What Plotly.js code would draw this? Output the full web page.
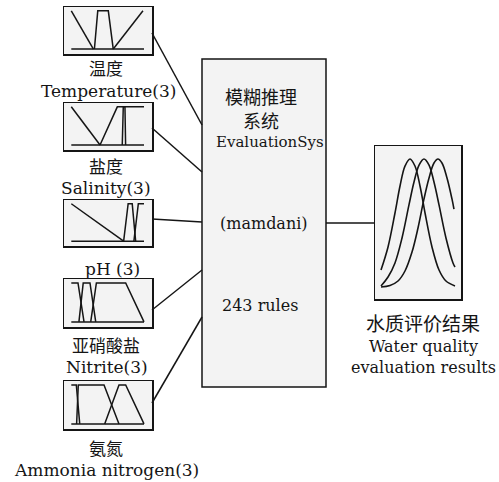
<!DOCTYPE html>
<html><head><meta charset="utf-8">
<script src="https://cdn.plot.ly/plotly-3.0.1.min.js"></script>
<style>html,body{margin:0;padding:0;background:#fff}</style>
</head><body><div id="chart" style="width:499px;height:482px"></div>
<script>
// ---------- data (membership functions, normalised universe 0..1) ----------
const inputNamesZh = ['温度', '盐度', '', '亚硝酸盐', '氨氮'];
const inputNamesEn = ['Temperature(3)', 'Salinity(3)', 'pH (3)', 'Nitrite(3)', 'Ammonia nitrogen(3)'];

const temperatureX = [[0, 0.304], [0.318, 0.364, 0.509, 0.577], [0.577, 0.986]];
const temperatureY = [[1, 0], [0, 1, 1, 0], [0, 1]];

const salinityX = [[0, 0.395], [0.395, 0.633, 1], [0.701, 0.715, 0.738, 0.747]];
const salinityY = [[1, 0], [0, 1, 1], [0, 1, 1, 0]];

const phX = [[0, 0.72], [0.72, 0.782, 0.838, 0.885], [0.861, 0.922, 1]];
const phY = [[1, 0], [0, 1, 1, 0], [0, 1, 1]];

const nitriteX = [[0, 0.092, 0.175], [0.105, 0.164, 0.257, 0.336], [0.267, 0.345, 0.748, 1]];
const nitriteY = [[1, 1, 0], [0, 1, 1, 0], [0, 1, 1, 0]];

const ammoniaX = [[0, 0.069, 0.116], [0.073, 0.096, 0.45, 0.656], [0.459, 0.656, 0.748, 1]];
const ammoniaY = [[1, 1, 0], [0, 1, 1, 0], [0, 1, 1, 0]];

const baselineX = [0, 1];
const baselineY = [0, 0];

const outputX = [
  [0, 0.095, 0.189, 0.257, 0.324, 0.392, 0.459, 0.527, 0.595, 0.689, 0.784, 0.878, 1],
  [0, 0.095, 0.189, 0.284, 0.378, 0.446, 0.514, 0.581, 0.649, 0.716, 0.784, 0.878, 0.973, 1],
  [0, 0.122, 0.230, 0.324, 0.419, 0.5, 0.581, 0.649, 0.716, 0.770, 0.824, 0.892, 0.959, 0.986]
];
const outputY = [
  [0.133, 0.313, 0.578, 0.789, 0.945, 1, 0.945, 0.789, 0.578, 0.313, 0.133, 0.047, 0.008],
  [0.008, 0.078, 0.188, 0.383, 0.641, 0.820, 0.953, 1, 0.953, 0.820, 0.641, 0.383, 0.188, 0.156],
  [0, 0.012, 0.047, 0.125, 0.273, 0.461, 0.688, 0.852, 0.969, 1, 0.969, 0.852, 0.688, 0.609]
];

const systemTextZh = ['模糊推理', '系统'];
const systemTextEn = ['EvaluationSys', '(mamdani)', '243 rules'];
const outputNames = ['水质评价结果', 'Water quality', 'evaluation results'];

// ---------- layout geometry ----------
const W = 499, H = 482;
const px = v => v / W;
const py = v => 1 - v / H;

const inputsX = [temperatureX, salinityX, phX, nitriteX, ammoniaX];
const inputsY = [temperatureY, salinityY, phY, nitriteY, ammoniaY];
const boxL = 64, boxR = 152;
const boxTop = [7, 103, 200, 279, 381];
const boxBot = [54, 150, 246, 327, 429];
const zhY = [68, 165, null, 344, 447];
const enY = [91, 188, 269, 367, 470];
const enX = [108, 106, 112, 107, 106];
const lineStartY = [33, 128, 219, 310, 403];
const lineEndY = [125, 172, 222, 270, 317];
const sys = {l: 202, r: 326, t: 59, b: 387};
const out = {l: 375, r: 461, t: 146, b: 299};

const INK = '#151515';
const FILL = '#f3f3f3';
const FONT = 'DejaVu Serif, Liberation Serif, Noto Sans CJK SC, serif';
const ZH = 'Noto Sans CJK SC, serif';

const traces = [];
const layout = {
  width: W, height: H,
  margin: {l: 0, r: 0, t: 0, b: 0},
  paper_bgcolor: '#ffffff',
  plot_bgcolor: FILL,
  showlegend: false,
  shapes: [], annotations: []
};

function axisPair(i, domX, domY, rx, ry) {
  const xa = {domain: domX, range: rx, showline: true, mirror: true, linecolor: INK, linewidth: 1.5,
    showgrid: false, zeroline: false, showticklabels: false, ticks: '', fixedrange: true};
  const ya = Object.assign({}, xa, {domain: domY, range: ry});
  xa.anchor = 'y' + (i === 1 ? '' : i);
  ya.anchor = 'x' + (i === 1 ? '' : i);
  layout['xaxis' + (i === 1 ? '' : i)] = xa;
  layout['yaxis' + (i === 1 ? '' : i)] = ya;
}

for (let i = 0; i < 5; i++) {
  const n = i + 1;
  const xr = [(boxL - 71.3) / 72.7, (boxR - 71.3) / 72.7];
  axisPair(n, [px(boxL), px(boxR)], [py(boxBot[i]), py(boxTop[i])], xr, [-0.13, 1.1]);
  const xs = 'x' + (n === 1 ? '' : n), ys = 'y' + (n === 1 ? '' : n);
  traces.push({x: baselineX, y: baselineY, xaxis: xs, yaxis: ys, mode: 'lines',
    line: {color: INK, width: 1.5}, hoverinfo: 'skip'});
  inputsX[i].forEach((mx, j) => {
    traces.push({x: mx, y: inputsY[i][j], xaxis: xs, yaxis: ys, mode: 'lines',
      line: {color: INK, width: 1.5}, hoverinfo: 'skip'});
  });
  layout.shapes.push({type: 'line', xref: 'paper', yref: 'paper',
    x0: px(boxR), y0: py(lineStartY[i]), x1: px(sys.l), y1: py(lineEndY[i]),
    line: {color: INK, width: 1.5}});
  if (inputNamesZh[i]) layout.annotations.push({xref: 'paper', yref: 'paper', x: px(106), y: py(zhY[i]),
    text: inputNamesZh[i], showarrow: false, xanchor: 'center', yanchor: 'middle',
    font: {family: ZH, size: 17, color: INK}});
  layout.annotations.push({xref: 'paper', yref: 'paper', x: px(enX[i]), y: py(enY[i]),
    text: inputNamesEn[i], showarrow: false, xanchor: 'center', yanchor: 'middle',
    font: {family: FONT, size: 17, color: INK}});
}

// output box
axisPair(6, [px(out.l), px(out.r)], [py(out.b), py(out.t)],
  [(out.l - 381) / 74, (out.r - 381) / 74], [(287 - out.b) / 128, (287 - out.t) / 128]);
outputX.forEach((mx, j) => {
  traces.push({x: mx, y: outputY[j], xaxis: 'x6', yaxis: 'y6', mode: 'lines',
    line: {color: INK, width: 1.6, shape: 'spline', smoothing: 1}, hoverinfo: 'skip'});
});

// system box
layout.shapes.push({type: 'rect', xref: 'paper', yref: 'paper', layer: 'below',
  x0: px(sys.l), x1: px(sys.r), y0: py(sys.b), y1: py(sys.t),
  fillcolor: FILL, line: {color: INK, width: 1.5}});
layout.shapes.push({type: 'line', xref: 'paper', yref: 'paper',
  x0: px(sys.r), x1: px(out.l), y0: py(223), y1: py(223), line: {color: INK, width: 1.5}});

const sysZhY = [96, 120], sysEnY = [142, 223, 305], sysEnX = [270, 264, 260], sysEnSize = [15, 16, 16];
systemTextZh.forEach((t, k) => layout.annotations.push({xref: 'paper', yref: 'paper', x: px(261), y: py(sysZhY[k]),
  text: t, showarrow: false, xanchor: 'center', yanchor: 'middle', font: {family: ZH, size: 18, color: INK}}));
systemTextEn.forEach((t, k) => layout.annotations.push({xref: 'paper', yref: 'paper', x: px(sysEnX[k]), y: py(sysEnY[k]),
  text: t, showarrow: false, xanchor: 'center', yanchor: 'middle', font: {family: FONT, size: sysEnSize[k], color: INK}}));

const outTY = [322, 346, 367], outFam = [ZH, FONT, FONT], outSize = [19, 16, 16];
outputNames.forEach((t, k) => layout.annotations.push({xref: 'paper', yref: 'paper', x: px(423), y: py(outTY[k]),
  text: t, showarrow: false, xanchor: 'center', yanchor: 'middle', font: {family: outFam[k], size: outSize[k], color: INK}}));

traces.forEach(t => t.showlegend = false);
Plotly.newPlot('chart', traces, layout, {staticPlot: true, displayModeBar: false});
</script></body></html>
